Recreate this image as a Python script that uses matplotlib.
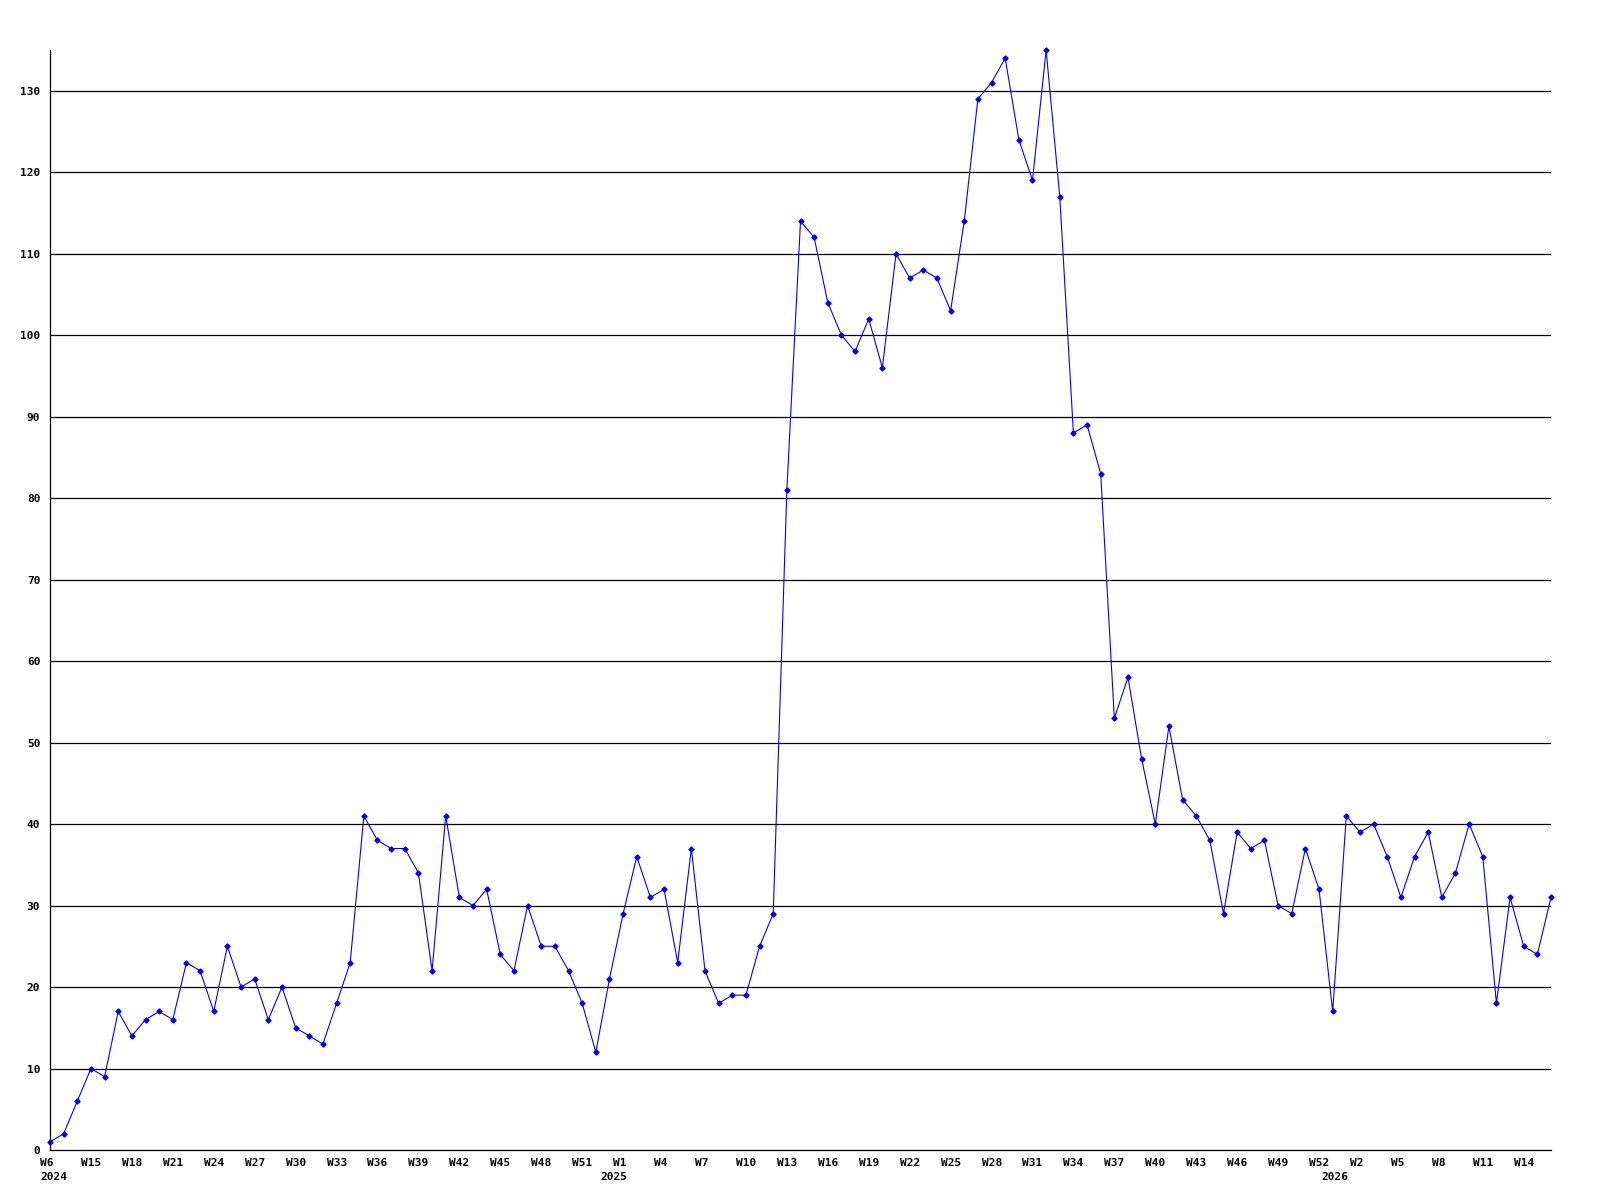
import matplotlib
matplotlib.use("Agg")
import matplotlib.pyplot as plt
from matplotlib.transforms import ScaledTranslation, blended_transform_factory

values = [1, 2, 6, 10, 9, 17, 14, 16, 17, 16,
          23, 22, 17, 25, 20, 21, 16, 20, 15, 14,
          13, 18, 23, 41, 38, 37, 37, 34, 22, 41,
          31, 30, 32, 24, 22, 30, 25, 25, 22, 18,
          12, 21, 29, 36, 31, 32, 23, 37, 22, 18,
          19, 19, 25, 29, 81, 114, 112, 104, 100, 98,
          102, 96, 110, 107, 108, 107, 103, 114, 129, 131,
          134, 124, 119, 135, 117, 88, 89, 83, 53, 58,
          48, 40, 52, 43, 41, 38, 29, 39, 37, 38,
          30, 29, 37, 32, 17, 41, 39, 40, 36, 31,
          36, 39, 31, 34, 40, 36, 18, 31, 25, 24, 31]

week_labels = ["W6", "W15", "W18", "W21", "W24", "W27", "W30", "W33", "W36",
               "W39", "W42", "W45", "W48", "W51", "W1", "W4", "W7", "W10",
               "W13", "W16", "W19", "W22", "W25", "W28", "W31", "W34", "W37",
               "W40", "W43", "W46", "W49", "W52", "W2", "W5", "W8", "W11", "W14"]
years = ["2024", "2025", "2026"]
year_pos = [0, 42, 95]
year_off = [-10, -23, -25]

fig = plt.figure(figsize=(16, 12), dpi=100)
ax = fig.add_axes([50/1600, 1 - 1150/1200, 1501/1600, 1100/1200])

x = list(range(len(values)))
ax.set_xlim(0, len(values) - 1)
ax.set_ylim(0, 135)

yt = list(range(0, 131, 10))
for v in yt[1:]:
    ax.axhline(v, color="black", lw=0.9, zorder=1)

ax.plot(x, values, color="#0000ff", lw=0.8, marker="D", markersize=2.6,
        markerfacecolor="#0000ff", markeredgecolor="#0000ff", zorder=3,
        clip_on=False)

for s in ["top", "right"]:
    ax.spines[s].set_visible(False)
for s in ["left", "bottom"]:
    ax.spines[s].set_color("black")
    ax.spines[s].set_linewidth(0.9)

font = dict(family="DejaVu Sans Mono", weight="bold", size=8)

ax.set_yticks(yt)
ax.set_yticklabels([str(v) for v in yt], fontdict=font)
ax.tick_params(axis="y", length=0, pad=7)

xt = list(range(0, 3 * len(week_labels), 3))
ax.set_xticks(xt)
ax.set_xticklabels(week_labels, fontdict=font)
ax.tick_params(axis="x", length=0, pad=5.5)
for lbl in ax.get_xticklabels():
    lbl.set_horizontalalignment("left")
    lbl.set_transform(lbl.get_transform() + ScaledTranslation(-0.1, 0, fig.dpi_scale_trans))

trans = blended_transform_factory(ax.transData, ax.transAxes)
for yr, p, off in zip(years, year_pos, year_off):
    ax.text(p, 0, yr, transform=trans + ScaledTranslation(off / 100, -0.27, fig.dpi_scale_trans),
            ha="left", va="center", **font)

fig.savefig("out.png", dpi=100, facecolor="white")
